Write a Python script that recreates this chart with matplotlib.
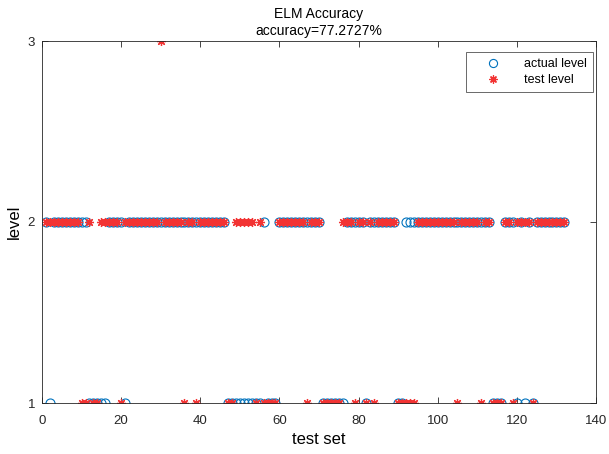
import matplotlib
matplotlib.use("Agg")
import matplotlib.pyplot as plt
import numpy as np

plt.rcParams['font.family'] = ['Liberation Sans', 'DejaVu Sans']

n_samples = 132
# indices (1-based) where actual level is 1; all others are 2
actual_level1 = [2, 12, 13, 14, 15, 16, 21, 47, 48, 49, 50, 51, 52, 53, 54, 55, 57, 58, 59,
                 71, 72, 73, 74, 75, 76, 82, 90, 91, 114, 115, 116, 120, 122, 124]
# indices where predicted (test) level is 1; level 3 listed separately; others are 2
test_level1 = [10, 11, 13, 14, 20, 36, 39, 47, 48, 54, 56, 57, 58, 59, 67, 71, 72, 73, 74,
               75, 79, 82, 84, 90, 91, 92, 93, 94, 105, 111, 114, 115, 116, 119, 124]
test_level3 = [30]

x = np.arange(1, n_samples + 1)
actual = np.full(n_samples, 2)
actual[np.array(actual_level1) - 1] = 1
test = np.full(n_samples, 2)
test[np.array(test_level1) - 1] = 1
test[np.array(test_level3) - 1] = 3
acc = np.mean(actual == test) * 100

fig = plt.figure(figsize=(6.09, 4.54), dpi=100)
ax = fig.add_axes([42/609, 51/454, (596-42)/609, (403-41)/454])

ax.plot(x, actual, linestyle='none', marker='o', markersize=6.5, markerfacecolor='none',
        markeredgecolor=(0, 0.447, 0.741), markeredgewidth=0.8, label='actual level')
ax.plot(x, test, linestyle='none', marker=(8, 2, 0), markersize=6.5,
        markeredgecolor=(0.95, 0.2, 0.2), markerfacecolor=(0.95, 0.2, 0.2),
        markeredgewidth=0.9, label='test level')

ax.set_xlim(0, 140)
ax.set_ylim(1, 3)
ax.set_xticks(np.arange(0, 141, 20))
ax.set_yticks([1, 2, 3])
ax.tick_params(direction='in', top=True, right=True, labelsize=9.5, length=4,
               width=0.6, colors=(0.15, 0.15, 0.15))
ax.tick_params(axis='x', pad=9)
ax.tick_params(axis='y', pad=5)
for s in ax.spines.values():
    s.set_linewidth(0.6)
    s.set_color((0.15, 0.15, 0.15))

ax.set_xlabel('test set', fontsize=12, labelpad=3)
ax.set_ylabel('level', fontsize=12, labelpad=4)
ax.set_title('ELM Accuracy\naccuracy=%.4f%%' % acc, fontsize=10, linespacing=1.3, pad=4)

leg = ax.legend(loc='upper right', bbox_to_anchor=(1 - 3/554, 1 - 11/362),
                fontsize=9, frameon=True, fancybox=False,
                edgecolor=(0.15, 0.15, 0.15), borderaxespad=0, handletextpad=0.9,
                handlelength=3.2, borderpad=0.5, labelspacing=0.3, markerscale=0.9)
leg.get_frame().set_linewidth(0.6)

fig.savefig('out.png', dpi=100)
